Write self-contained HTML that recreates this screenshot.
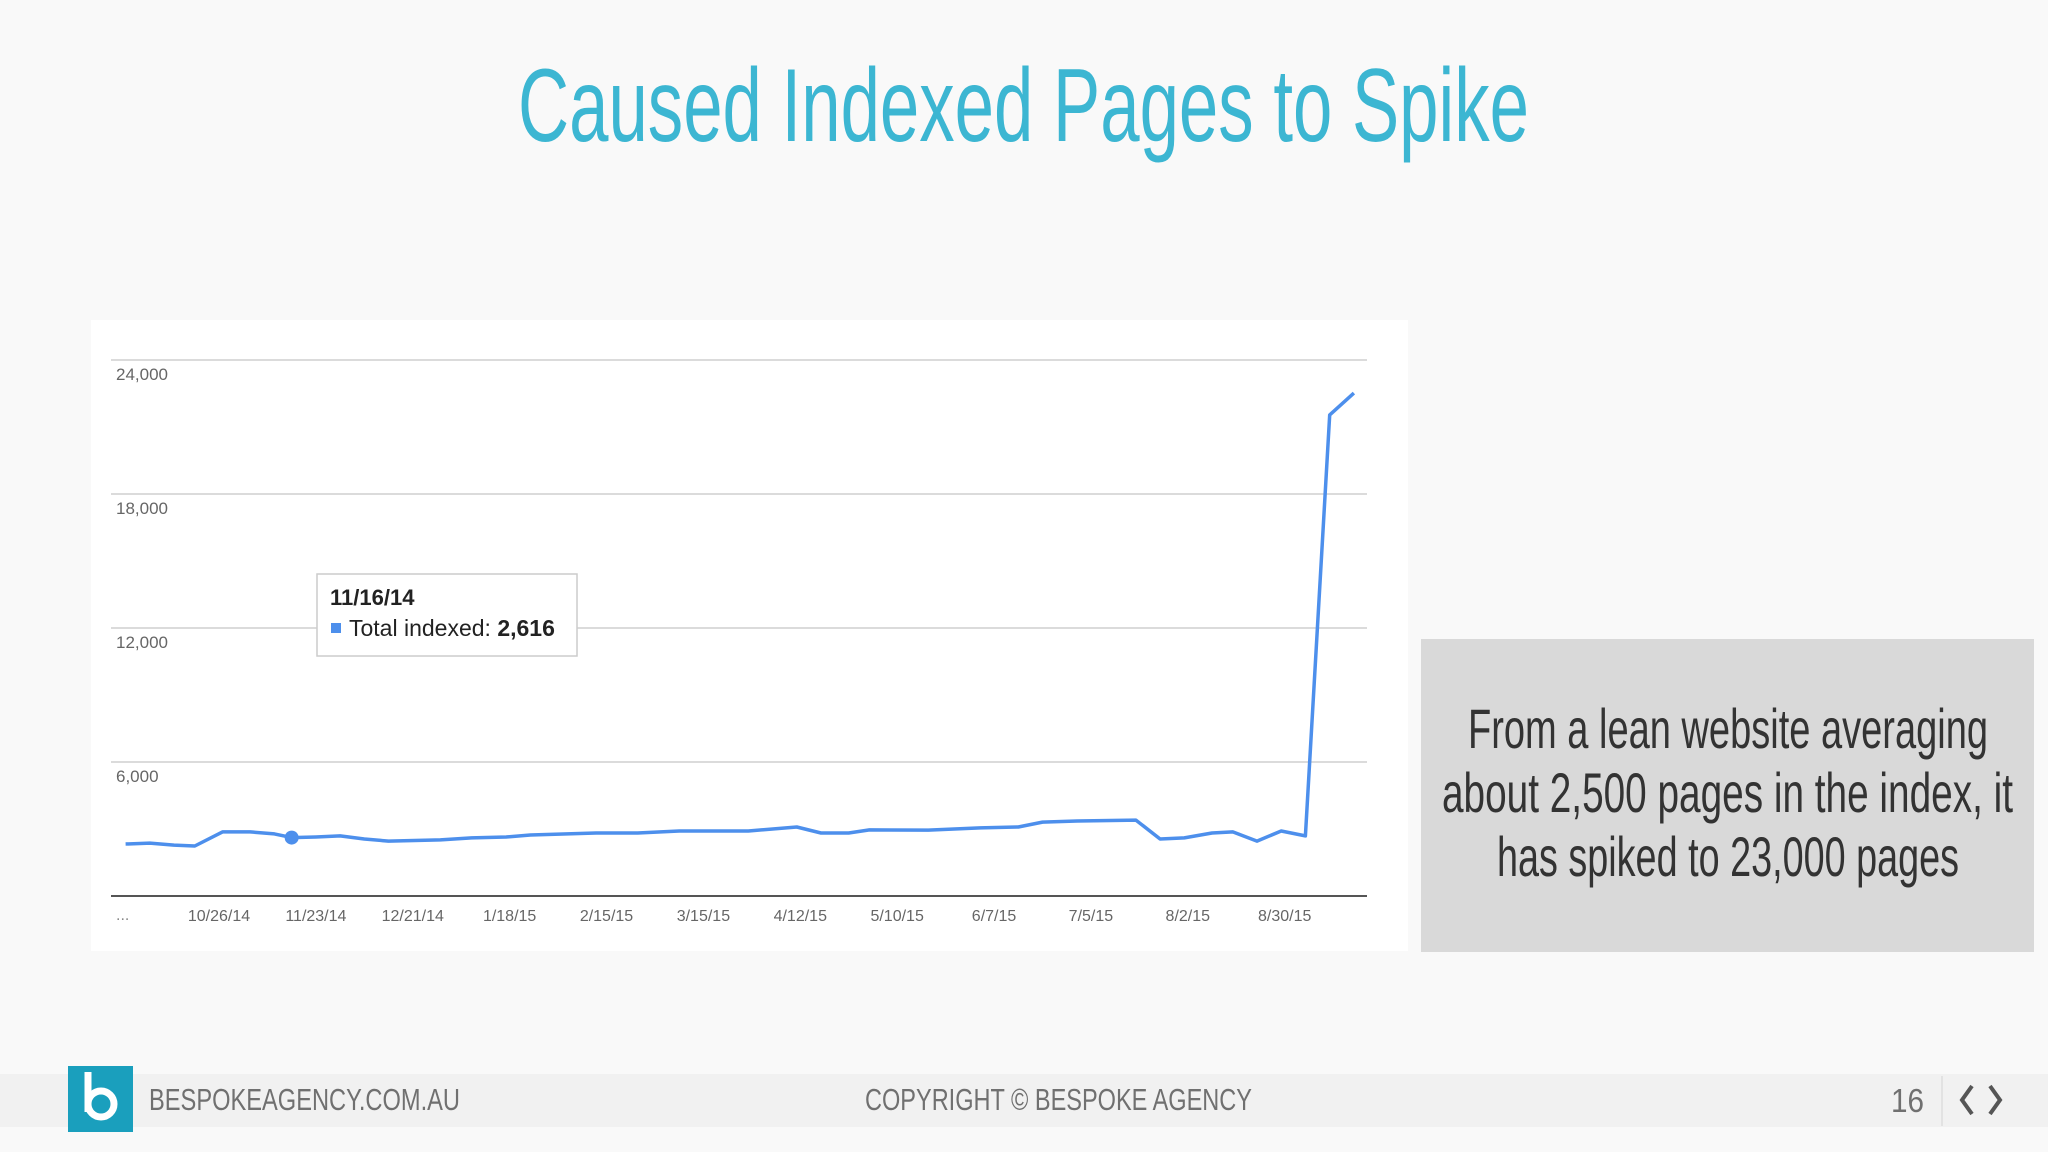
<!DOCTYPE html>
<html><head><meta charset="utf-8"><style>
html,body{margin:0;padding:0;background:#f9f9f9;}
svg{display:block;font-family:"Liberation Sans",sans-serif;}
</style></head><body>
<svg id="slide" width="2048" height="1152" viewBox="0 0 2048 1152">
<rect x="0" y="0" width="2048" height="1152" fill="#f9f9f9"/>
<text x="518" y="141" font-size="104" fill="#3cb6d2" textLength="1011" lengthAdjust="spacingAndGlyphs">Caused Indexed Pages to Spike</text>

<rect x="91" y="320" width="1317" height="631" fill="#ffffff"/>
<g id="grid"></g>
<g id="ylabels"></g>
<g id="xlabels"></g>
<g id="series"></g>

<g>
<rect x="317" y="574" width="260" height="82" fill="#ffffff" stroke="#cccccc" stroke-width="1.5"/>
<text x="330" y="605" font-size="22" font-weight="bold" fill="#222">11/16/14</text>
<rect x="331" y="623" width="10" height="10" fill="#4d8fec"/>
<text x="349" y="636" font-size="23" fill="#222">Total indexed: <tspan font-weight="bold">2,616</tspan></text>
</g>

<rect x="1421" y="639" width="613" height="313" fill="#d9d9d9"/>
<g fill="#333333" font-size="56">
<text x="1468" y="748" textLength="520" lengthAdjust="spacingAndGlyphs">From a lean website averaging</text>
<text x="1442" y="812" textLength="571" lengthAdjust="spacingAndGlyphs">about 2,500 pages in the index, it</text>
<text x="1497" y="876" textLength="462" lengthAdjust="spacingAndGlyphs">has spiked to 23,000 pages</text>
</g>

<rect x="0" y="1074" width="2048" height="53" fill="#f1f1f1"/>
<rect x="68" y="1066" width="65" height="66" fill="#1a9fbd"/>
<path d="M88 1072 V1112 M88 1104 a13 13 0 1 0 13 -13 a13 13 0 0 0 -13 13" stroke="#ffffff" stroke-width="7" fill="none"/>
<text x="149" y="1110" font-size="31" fill="#707070" textLength="311" lengthAdjust="spacingAndGlyphs">BESPOKEAGENCY.COM.AU</text>
<text x="865" y="1110" font-size="31" fill="#707070" textLength="387" lengthAdjust="spacingAndGlyphs">COPYRIGHT © BESPOKE AGENCY</text>
<text x="1891" y="1112" font-size="33" fill="#707070" textLength="33" lengthAdjust="spacingAndGlyphs">16</text>
<line x1="1942" y1="1076" x2="1942" y2="1126" stroke="#e2e2e2" stroke-width="2"/>
<path d="M1972 1086 L1962 1100 L1972 1114" stroke="#555" stroke-width="4" fill="none"/>
<path d="M1990 1086 L2000 1100 L1990 1114" stroke="#555" stroke-width="4" fill="none"/>
</svg>
<script>
const dayOffsets = [-27,-20,-13,-7,1,9,16,21,28,35,42,49,64,73,83,90,109,121,133,153,167,174,182,188,205,220,231,238,248,265,272,279,287,293,300,307,314,321,328];
const indexedValues = [2330,2370,2280,2240,2870,2870,2780,2616,2640,2690,2550,2460,2510,2600,2640,2730,2820,2820,2910,2910,3090,2820,2820,2960,2950,3050,3090,3310,3360,3400,2550,2600,2820,2870,2460,2910,2690,21540,22520];
const yTicks = [0,6000,12000,18000,24000];
const yTickLabels = ["","6,000","12,000","18,000","24,000"];
const xTickDays = [0,28,56,84,112,140,168,196,224,252,280,308];
const xTickLabels = ["10/26/14","11/23/14","12/21/14","1/18/15","2/15/15","3/15/15","4/12/15","5/10/15","6/7/15","7/5/15","8/2/15","8/30/15"];

const NS="http://www.w3.org/2000/svg";
const x0=111,x1=1367,yBase=896,yTop=360;
function xs(d){return 219+d*3.46;}
function ys(v){return yBase-(v/24000)*(yBase-yTop);}
function mk(tag,attrs,parent){const e=document.createElementNS(NS,tag);for(const k in attrs)e.setAttribute(k,attrs[k]);parent.appendChild(e);return e;}

const grid=document.getElementById('grid');
yTicks.forEach((v,i)=>{
  const l=mk('line',{x1:x0,x2:x1,y1:ys(v),y2:ys(v),stroke:i===0?'#555':'#cfcfcf','stroke-width':i===0?2:1.5},grid);
  
  
});
const yl=document.getElementById('ylabels');
yTicks.forEach((v,i)=>{
  if(!yTickLabels[i])return;
  const t=mk('text',{x:116,y:ys(v)+20,'font-size':17,fill:'#666'},yl);
  t.textContent=yTickLabels[i];
  
  
});
const xl=document.getElementById('xlabels');
const dots=mk('text',{x:116,y:920,'font-size':16,fill:'#888'},xl);
dots.textContent='...';


xTickDays.forEach((d,i)=>{
  const t=mk('text',{x:xs(d),y:921,'font-size':16,fill:'#666','text-anchor':'middle'},xl);
  t.textContent=xTickLabels[i];
  
  
});
const ser=document.getElementById('series');
const pts=dayOffsets.map((d,i)=>xs(d).toFixed(1)+','+ys(indexedValues[i]).toFixed(1)).join(' ');
const pl=mk('polyline',{points:pts,fill:'none',stroke:'#4d8fec','stroke-width':3.5,'stroke-linejoin':'round'},ser);


const hi=7;
const c=mk('circle',{cx:xs(dayOffsets[hi]),cy:ys(indexedValues[hi]),r:7,fill:'#4d8fec'},ser);


</script>
</body></html>
